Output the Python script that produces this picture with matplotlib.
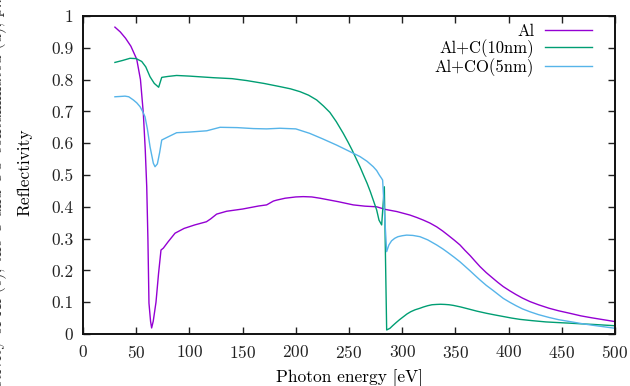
import matplotlib
matplotlib.use("Agg")
import matplotlib.pyplot as plt
import numpy as np

# Data
al_E = [30, 35, 40, 45, 50.5, 54, 56.7, 58.5, 59.9, 61, 62, 63.5, 64.5, 66, 68.6, 71, 73.3, 75.5, 80, 86.5, 95, 105, 116, 120, 125.6, 135, 150, 165, 172.6, 178.9, 182, 190, 200, 207, 215, 222.7, 240, 254, 265, 276, 283.8, 295, 307.3, 314, 320, 326, 332.4, 338, 343, 349, 354.3, 359, 364, 368.5, 373.1, 379, 385, 390, 395, 401, 407, 413, 420, 428, 438, 447, 457.7, 468, 478, 489, 500]
al_R = [0.965, 0.95, 0.93, 0.905, 0.864, 0.80, 0.694, 0.58, 0.463, 0.30, 0.097, 0.04, 0.019, 0.04, 0.10, 0.19, 0.264, 0.27, 0.29, 0.317, 0.332, 0.343, 0.353, 0.362, 0.377, 0.386, 0.393, 0.4025, 0.406, 0.418, 0.421, 0.427, 0.431, 0.432, 0.431, 0.427, 0.416, 0.406, 0.402, 0.40, 0.392, 0.385, 0.374, 0.366, 0.358, 0.349, 0.337, 0.324, 0.311, 0.295, 0.28, 0.263, 0.246, 0.229, 0.212, 0.193, 0.176, 0.162, 0.149, 0.136, 0.124, 0.113, 0.102, 0.092, 0.081, 0.073, 0.065, 0.057, 0.051, 0.045, 0.039]

c_E = [30, 37, 44.2, 50, 55.2, 59, 63, 67, 71.1, 74, 80, 88, 100, 122.5, 140, 153.8, 170, 185, 195, 204, 212, 219.6, 226, 232, 238, 244.6, 249, 253, 256.5, 260.3, 264, 267, 270, 272.8, 276, 278.2, 280.7, 283.2, 285.4, 288.5, 291, 294, 297.5, 301, 304.5, 308, 312, 316.7, 320, 324, 328, 332.4, 336, 340, 344, 348, 355, 362, 370, 379.4, 387, 395, 403, 410.7, 422, 435, 446, 457.7, 468, 480, 490, 500]
c_R = [0.854, 0.86, 0.867, 0.866, 0.857, 0.84, 0.809, 0.788, 0.776, 0.807, 0.810, 0.813, 0.811, 0.806, 0.803, 0.797, 0.788, 0.778, 0.771, 0.762, 0.751, 0.736, 0.717, 0.697, 0.668, 0.631, 0.604, 0.578, 0.553, 0.526, 0.497, 0.474, 0.448, 0.421, 0.39, 0.358, 0.343, 0.463, 0.0126, 0.018, 0.026, 0.035, 0.045, 0.054, 0.063, 0.07, 0.076, 0.081, 0.085, 0.089, 0.092, 0.093, 0.0935, 0.093, 0.092, 0.09, 0.085, 0.079, 0.072, 0.065, 0.06, 0.055, 0.05, 0.046, 0.042, 0.038, 0.036, 0.034, 0.032, 0.03, 0.028, 0.026]

co_E = [30, 35, 39.5, 43, 47.3, 50.5, 53.6, 56, 58.3, 60.5, 63, 66.1, 67.7, 69.9, 72, 74, 80, 88, 100, 116.3, 122, 128.8, 145, 160, 172.6, 185, 200, 213, 225, 238.4, 250, 260.3, 267, 272.8, 276, 278.5, 280.5, 281.6, 285.4, 287.5, 290, 293, 296, 300, 304.2, 310, 316.7, 324, 332.4, 338, 343, 349, 354.3, 359, 364, 368.5, 373.1, 379, 385, 390, 395, 401, 407, 413, 420, 428, 438, 447, 457.7, 468, 478, 489, 500]
co_R = [0.746, 0.747, 0.748, 0.746, 0.736, 0.727, 0.715, 0.70, 0.683, 0.645, 0.589, 0.537, 0.526, 0.535, 0.57, 0.61, 0.62, 0.633, 0.635, 0.639, 0.644, 0.65, 0.649, 0.646, 0.645, 0.647, 0.645, 0.631, 0.614, 0.594, 0.575, 0.558, 0.543, 0.526, 0.514, 0.50, 0.49, 0.484, 0.259, 0.28, 0.293, 0.301, 0.306, 0.309, 0.311, 0.310, 0.306, 0.296, 0.28, 0.268, 0.256, 0.241, 0.227, 0.213, 0.198, 0.184, 0.17, 0.153, 0.138, 0.125, 0.112, 0.1, 0.089, 0.079, 0.07, 0.061, 0.052, 0.045, 0.039, 0.033, 0.028, 0.023, 0.018]

labels = ["Al", "Al+C(10nm)", "Al+CO(5nm)"]
colors = ["#9400d3", "#009e73", "#56b4e9"]
ytick_labels = ["0", "0.1", "0.2", "0.3", "0.4", "0.5", "0.6", "0.7", "0.8", "0.9", "1"]

FS = 12.5
plt.rcParams["font.family"] = ["cmr10", "DejaVu Serif"]
plt.rcParams["axes.formatter.use_mathtext"] = True
plt.rcParams["mathtext.fontset"] = "cm"

fig = plt.figure(figsize=(6.3, 3.86), dpi=100)
ax = fig.add_axes([83/630, 1-334/386, 532/630, 318/386])

for E, R, lab, col in zip([al_E, c_E, co_E], [al_R, c_R, co_R], labels, colors):
    ax.plot(E, R, color=col, lw=1.0, label=lab)

ax.set_xlim(0, 500)
ax.set_ylim(0, 1)
ax.set_xticks(np.arange(0, 501, 50))
ax.set_yticks(np.arange(0, 1.01, 0.1))
ax.set_yticklabels(ytick_labels)
ax.tick_params(direction="in", length=5, width=1, top=True, right=True, labelsize=FS, colors="#222222")
ax.tick_params(axis="x", pad=7)
ax.tick_params(axis="y", pad=7)
for s in ax.spines.values():
    s.set_linewidth(1.4)
    s.set_color("#111111")

ax.set_xlabel("Photon energy [eV]", fontsize=FS)
ax.xaxis.set_label_coords(0.5, -(369-334)/318)
ax.set_ylabel("Reflectivity", fontsize=FS)
ax.yaxis.set_label_coords(-51/532, (334-172)/318)

leg = ax.legend(loc="upper right", frameon=False, fontsize=12, markerfirst=False,
                handlelength=2.8, handletextpad=0.65, labelspacing=0.0,
                borderaxespad=0.3, bbox_to_anchor=(0.978, 1.012))
for t in leg.get_texts():
    t.set_ha("right")
leg._legend_box.align = "right"

fig.text(-2/630, 0.5, "Reflectivity of Al (e), the C and CO contaminated (d), p... and",
         rotation=90, ha="center", va="center", fontsize=12, color="#333333")

fig.savefig("out.png", dpi=100)
